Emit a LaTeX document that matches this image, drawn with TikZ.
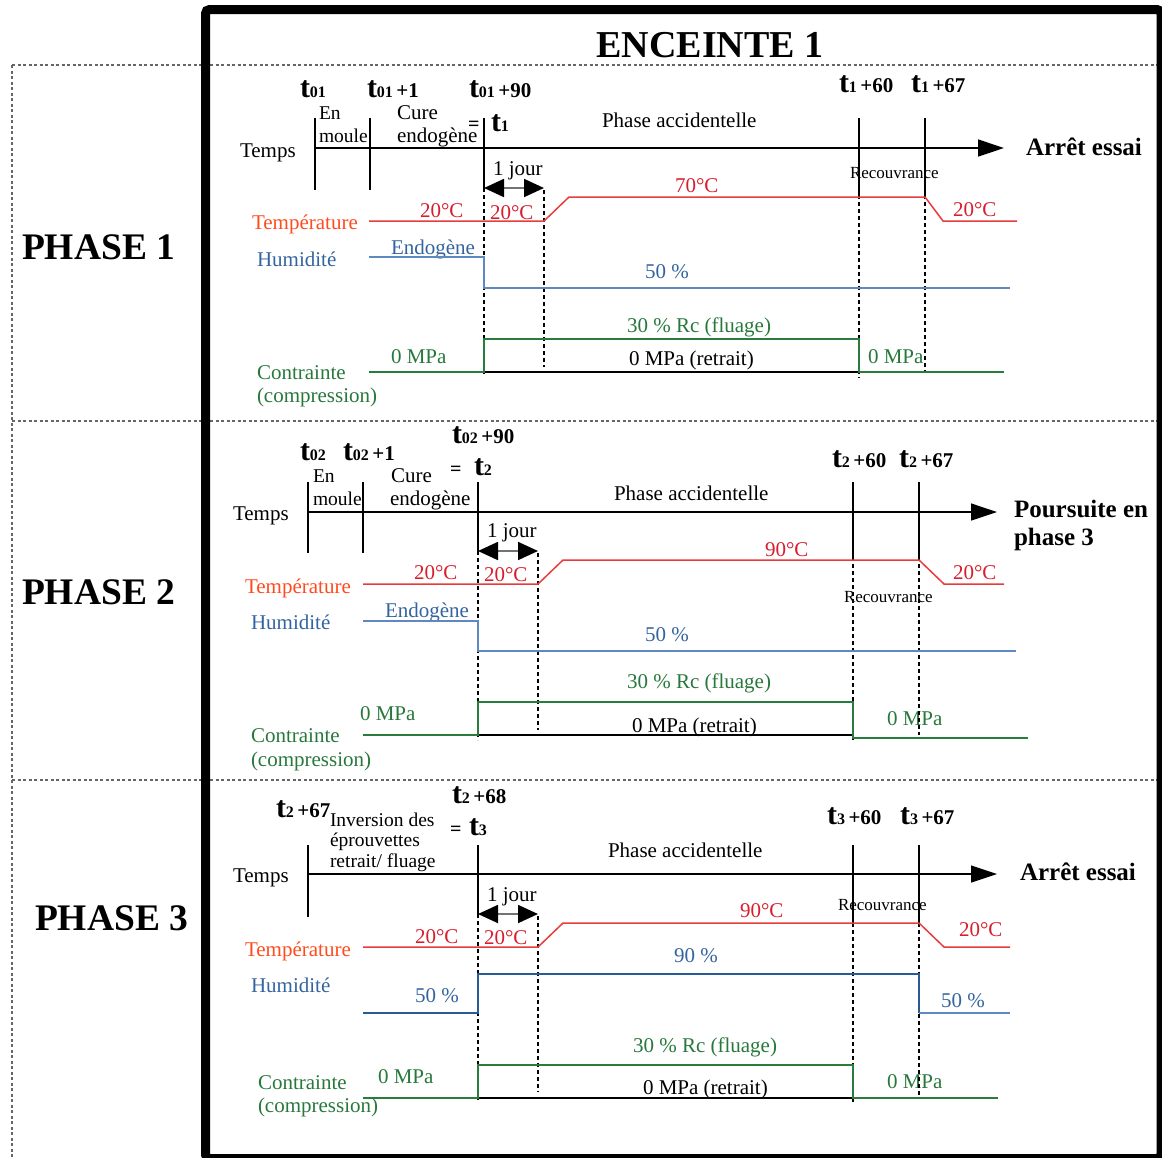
\documentclass[tikz,border=0pt]{standalone}
\usepackage{fontspec}
\setmainfont{Liberation Serif}
\usetikzlibrary{arrows.meta}
\newcommand{\fsz}[1]{\fontsize{#1}{#1}\selectfont}
\newcommand{\tlab}[2]{{\fsz{30}\bfseries t}{\fsz{16}\bfseries #1}{\fsz{21}\bfseries #2}}
\definecolor{tempTxt}{RGB}{255,75,30}
\definecolor{tempVal}{RGB}{215,30,45}
\definecolor{tempLine}{RGB}{232,60,60}
\definecolor{humTxt}{RGB}{52,100,160}
\definecolor{humLine}{RGB}{95,135,192}
\definecolor{humDark}{RGB}{40,90,150}
\definecolor{grTxt}{RGB}{40,120,60}
\definecolor{grLine}{RGB}{40,125,60}
\begin{document}
\begin{tikzpicture}[x=1pt,y=-1pt,
  every node/.style={inner sep=0pt,outer sep=0pt,anchor=base west},
  txt/.style={font=\fsz{21}},
  sm/.style={font=\fsz{19.5}},
  reco/.style={font=\fsz{17}},
  big/.style={font=\fsz{25}\bfseries},
  phasel/.style={font=\fsz{37.5}\bfseries},
  eqs/.style={font=\fsz{20}\bfseries},
  vl/.style={line width=1.2pt},
  dl/.style={line width=1.1pt,dash pattern=on 4pt off 3pt},
  sepl/.style={line width=1.1pt,black!60,dash pattern=on 3pt off 2.5pt},
  axisl/.style={line width=1.3pt,-{Triangle[length=26pt,width=17pt]}},
  jourl/.style={line width=1.8pt,black!55,{Triangle[length=20pt,width=18pt,color=black]}-{Triangle[length=20pt,width=18pt,color=black]}},
  tline/.style={line width=1.5pt,tempLine},
  hline/.style={line width=1.5pt,humLine},
  hdline/.style={line width=1.5pt,humDark},
  gline/.style={line width=1.5pt,grLine},
  bline/.style={line width=1.5pt,black}]
\useasboundingbox (0,0) rectangle (1162,1157);
% separators
\draw[sepl] (12,65) -- (1160,65);
\draw[sepl] (12,421) -- (1160,421);
\draw[sepl] (12,780) -- (1160,780);
\draw[sepl] (12,65) -- (12,1157);
% frame
\begin{scope}
\clip (0,0) rectangle (1162,1157);
\draw[line width=9pt,rounded corners=4pt] (205.5,9.5) rectangle (1161,1158.5);
\end{scope}
\node[anchor=base,font=\fsz{38}\bfseries] (enc) at (710,57) {ENCEINTE 1};
\node[phasel] (ph1) at (22,259) {PHASE 1};
\node[phasel] (ph2) at (22,604) {PHASE 2};
\node[phasel] (ph3) at (35,930) {PHASE 3};
%%%%%%%%%%%% PHASE 1
\node (p1ta) at (300,97) {\tlab{01}{}};
\node (p1tb) at (367,97) {\tlab{01}{\,+1}};
\node (p1tc) at (469,97) {\tlab{01}{\,+90}};
\node[eqs] (p1eq) at (468,130) {=};
\node (p1td) at (491,131) {\tlab{1}{}};
\node (p1te) at (839,92) {\tlab{1}{\,+60}};
\node (p1tf) at (911,92) {\tlab{1}{\,+67}};
\node[sm] (p1en) at (319,119) {En};
\node[sm] (p1mo) at (319,142) {moule};
\node[txt] (p1cu) at (397,119) {Cure};
\node[txt] (p1endo) at (397,142) {endogène};
\node[txt] (p1temps) at (240,157) {Temps};
\node[txt] (p1pa) at (602,127) {Phase accidentelle};
\node[big] (p1arr) at (1026,155) {Arrêt essai};
\node[reco] (p1rec) at (850,178) {Recouvrance};
\node[txt] (p1jour) at (493,175) {1 jour};
\node[txt,text=tempTxt] (p1temp) at (252,229) {Température};
\node[txt,text=tempVal] (p1va) at (420,217) {20°C};
\node[txt,text=tempVal] (p1vb) at (490,219) {20°C};
\node[txt,text=tempVal] (p1vc) at (675,192) {70°C};
\node[txt,text=tempVal] (p1vd) at (953,216) {20°C};
\node[txt,text=humTxt] (p1hum) at (257,266) {Humidité};
\node[txt,text=humTxt] (p1endog) at (391,254) {Endogène};
\node[txt,text=humTxt] (p1h50) at (645,278) {50 \%};
\node[txt,text=grTxt] (p1rc) at (627,332) {30 \% Rc (fluage)};
\node[txt] (p1ret) at (629,365) {0 MPa (retrait)};
\node[txt,text=grTxt] (p1mpa) at (391,363) {0 MPa};
\node[txt,text=grTxt] (p1mpb) at (868,363) {0 MPa};
\node[txt,text=grTxt] (p1con) at (257,379) {Contrainte};
\node[txt,text=grTxt] (p1com) at (257,402) {(compression)};
\draw[vl] (315,118) -- (315,190);
\draw[vl] (370,118) -- (370,190);
\draw[vl] (484,118) -- (484,188);
\draw[dl] (484,188) -- (484,375);
\draw[dl] (544,190) -- (544,367);
\draw[vl] (859,118) -- (859,195);
\draw[dl] (859,195) -- (859,378);
\draw[vl] (925,118) -- (925,195);
\draw[dl] (925,195) -- (925,372);
\draw[axisl] (315,148) -- (1004,148);
\draw[jourl] (484,188) -- (544,188);
\draw[tline] (369,221) -- (544,221) -- (569,197) -- (925,197) -- (943,221) -- (1017,221);
\draw[hline] (369,257) -- (484,257) -- (484,288) -- (1010,288);
\draw[bline] (484,372) -- (859,372);
\draw[gline] (369,372) -- (484,372) -- (484,339) -- (859,339) -- (859,372) -- (1004,372);
%%%%%%%%%%%% PHASE 2
\node (p2ta) at (300,460) {\tlab{02}{}};
\node (p2tb) at (343,460) {\tlab{02}{\,+1}};
\node (p2tc) at (452,443) {\tlab{02}{\,+90}};
\node[eqs] (p2eq) at (450,475) {=};
\node (p2td) at (474,475) {\tlab{2}{}};
\node (p2te) at (832,467) {\tlab{2}{\,+60}};
\node (p2tf) at (899,467) {\tlab{2}{\,+67}};
\node[sm] (p2en) at (313,482) {En};
\node[sm] (p2mo) at (313,505) {moule};
\node[txt] (p2cu) at (391,482) {Cure};
\node[txt] (p2endo) at (390,505) {endogène};
\node[txt] (p2temps) at (233,520) {Temps};
\node[txt] (p2pa) at (614,500) {Phase accidentelle};
\node[big] (p2pa1) at (1014,517) {Poursuite en};
\node[big] (p2pa2) at (1014,545) {phase 3};
\node[reco] (p2rec) at (844,602) {Recouvrance};
\node[txt] (p2jour) at (487,537) {1 jour};
\node[txt,text=tempTxt] (p2temp) at (245,593) {Température};
\node[txt,text=tempVal] (p2va) at (414,579) {20°C};
\node[txt,text=tempVal] (p2vb) at (484,581) {20°C};
\node[txt,text=tempVal] (p2vc) at (765,556) {90°C};
\node[txt,text=tempVal] (p2vd) at (953,579) {20°C};
\node[txt,text=humTxt] (p2hum) at (251,629) {Humidité};
\node[txt,text=humTxt] (p2endog) at (385,617) {Endogène};
\node[txt,text=humTxt] (p2h50) at (645,641) {50 \%};
\node[txt,text=grTxt] (p2rc) at (627,688) {30 \% Rc (fluage)};
\node[txt] (p2ret) at (632,732) {0 MPa (retrait)};
\node[txt,text=grTxt] (p2mpa) at (360,720) {0 MPa};
\node[txt,text=grTxt] (p2mpb) at (887,725) {0 MPa};
\node[txt,text=grTxt] (p2con) at (251,742) {Contrainte};
\node[txt,text=grTxt] (p2com) at (251,766) {(compression)};
\draw[vl] (308,482) -- (308,553);
\draw[vl] (363,482) -- (363,553);
\draw[vl] (478,482) -- (478,551);
\draw[dl] (478,551) -- (478,740);
\draw[dl] (538,553) -- (538,730);
\draw[vl] (853,482) -- (853,557);
\draw[dl] (853,557) -- (853,740);
\draw[vl] (919,482) -- (919,557);
\draw[dl] (919,557) -- (919,735);
\draw[axisl] (308,512) -- (997,512);
\draw[jourl] (478,551) -- (538,551);
\draw[tline] (363,584) -- (538,584) -- (563,560) -- (919,560) -- (944,584) -- (1004,584);
\draw[hline] (363,621) -- (478,621) -- (478,651) -- (1016,651);
\draw[bline] (478,735) -- (853,735);
\draw[gline] (363,735) -- (478,735) -- (478,702) -- (853,702) -- (853,738) -- (1028,738);
%%%%%%%%%%%% PHASE 3
\node (p3ta) at (276,817) {\tlab{2}{\,+67}};
\node[sm] (p3inv) at (330,826) {Inversion des};
\node[sm] (p3epr) at (330,846) {éprouvettes};
\node[sm] (p3ret) at (330,867) {retrait/ fluage};
\node (p3tc) at (452,803) {\tlab{2}{\,+68}};
\node[eqs] (p3eq) at (450,835) {=};
\node (p3td) at (469,835) {\tlab{3}{}};
\node (p3te) at (827,824) {\tlab{3}{\,+60}};
\node (p3tf) at (900,824) {\tlab{3}{\,+67}};
\node[txt] (p3temps) at (233,882) {Temps};
\node[txt] (p3pa) at (608,857) {Phase accidentelle};
\node[big] (p3arr) at (1020,880) {Arrêt essai};
\node[reco] (p3rec) at (838,910) {Recouvrance};
\node[txt] (p3jour) at (487,901) {1 jour};
\node[txt,text=tempTxt] (p3temp) at (245,956) {Température};
\node[txt,text=tempVal] (p3va) at (415,943) {20°C};
\node[txt,text=tempVal] (p3vb) at (484,944) {20°C};
\node[txt,text=tempVal] (p3vc) at (740,917) {90°C};
\node[txt,text=tempVal] (p3vd) at (959,936) {20°C};
\node[txt,text=humTxt] (p3hum) at (251,992) {Humidité};
\node[txt,text=humTxt] (p3ha) at (415,1002) {50 \%};
\node[txt,text=humTxt] (p3hb) at (674,962) {90 \%};
\node[txt,text=humTxt] (p3hc) at (941,1007) {50 \%};
\node[txt,text=grTxt] (p3rc) at (633,1052) {30 \% Rc (fluage)};
\node[txt] (p3retr) at (643,1094) {0 MPa (retrait)};
\node[txt,text=grTxt] (p3mpa) at (378,1083) {0 MPa};
\node[txt,text=grTxt] (p3mpb) at (887,1088) {0 MPa};
\node[txt,text=grTxt] (p3con) at (258,1089) {Contrainte};
\node[txt,text=grTxt] (p3com) at (258,1112) {(compression)};
\draw[vl] (308,845) -- (308,917);
\draw[vl] (478,845) -- (478,914);
\draw[dl] (478,914) -- (478,1100);
\draw[dl] (538,916) -- (538,1092);
\draw[vl] (853,845) -- (853,923);
\draw[dl] (853,923) -- (853,1104);
\draw[vl] (919,845) -- (919,923);
\draw[dl] (919,923) -- (919,1095);
\draw[axisl] (308,874) -- (997,874);
\draw[jourl] (478,914) -- (538,914);
\draw[tline] (363,947) -- (538,947) -- (563,923) -- (919,923) -- (944,947) -- (1010,947);
\draw[hdline] (363,1013) -- (478,1013) -- (478,974) -- (919,974) -- (919,1013);
\draw[hline] (919,1013) -- (1010,1013);
\draw[bline] (478,1098) -- (853,1098);
\draw[gline] (363,1098) -- (478,1098) -- (478,1065) -- (853,1065) -- (853,1098) -- (998,1098);
\end{tikzpicture}
\end{document}
